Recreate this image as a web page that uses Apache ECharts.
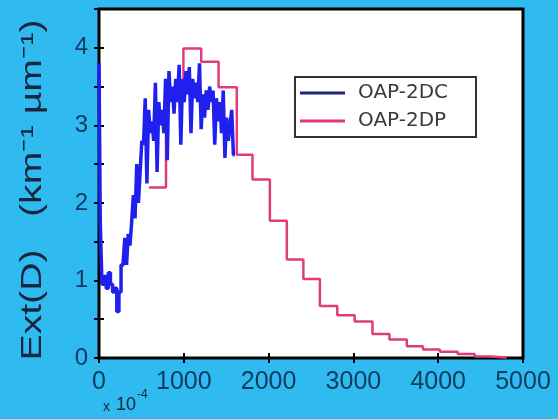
<!DOCTYPE html>
<html>
<head>
<meta charset="utf-8">
<script src="https://cdn.jsdelivr.net/npm/echarts@6/dist/echarts.min.js"></script>
<style>
  html, body { margin: 0; padding: 0; background: #2fbaf0; }
  #chart { width: 558px; height: 419px; }
</style>
</head>
<body>
<div id="chart"></div>
<script>
// OAP-2DC: narrow bins, left edges (µm) and values
const dcEdges = [0, 15, 35, 60, 85, 110, 135, 160, 185, 210, 235, 260, 285, 305, 325, 345, 365, 385, 405, 425,
  445, 465, 485, 505, 525, 545, 565, 585, 605, 625, 645, 665, 685, 705, 725, 745, 765, 785, 805, 825,
  845, 865, 885, 905, 925, 945, 965, 985, 1005, 1025, 1045, 1065, 1085, 1105, 1125, 1145, 1165, 1185, 1205, 1225,
  1245, 1265, 1285, 1305, 1325, 1345, 1365, 1385, 1405, 1425, 1445, 1465, 1485, 1505, 1525, 1545, 1565, 1585, 1600];
const dcValues = [3.8, 1.75, 0.95, 1.05, 0.9, 1.1, 0.95, 0.85, 0.9, 0.6, 0.85, 1.2, 1.25, 1.55, 1.2, 1.6, 1.45, 1.75, 2.1, 1.8,
  2.5, 2.0, 2.4, 2.8, 2.75, 3.35, 2.25, 3.2, 2.9, 3.05, 2.8, 3.55, 2.4, 3.3, 3.0, 3.2, 2.9, 3.6, 2.55, 3.7,
  3.3, 3.5, 3.15, 3.6, 3.3, 3.78, 2.75, 3.6, 3.3, 3.7, 3.4, 3.75, 2.9, 3.6, 3.35, 3.55, 3.3, 3.8, 2.95, 3.4,
  3.1, 3.45, 3.2, 3.5, 3.3, 3.45, 2.75, 3.35, 3.05, 3.3, 2.9, 3.45, 2.58, 3.1, 2.8, 3.0, 3.2, 2.62, 2.62];

// OAP-2DP: wide bins
const dpEdges = [590, 790, 995, 1205, 1410, 1625, 1810, 2015, 2215, 2410, 2605, 2810, 3015, 3225, 3425, 3630,
  3820, 4020, 4230, 4430, 4615, 4810];
const dpValues = [2.2, 3.44, 3.99, 3.82, 3.49, 2.62, 2.3, 1.77, 1.27, 1.02, 0.67, 0.55, 0.47, 0.31, 0.24, 0.15,
  0.11, 0.08, 0.05, 0.02, 0.005, 0.005];

const xTicks = [0, 1000, 2000, 3000, 4000, 5000];
const yTicks = [0, 1, 2, 3, 4];

const toPairs = (xs, ys) => xs.map((x, i) => [x, ys[i]]);

const myChart = echarts.init(document.getElementById('chart'));
const tickCol = '#0f3c5e';
const tickStyle = { show: true, inside: true, length: 5, lineStyle: { color: '#000', width: 2 } };

const option = {
  backgroundColor: '#2fbaf0',
  animation: false,
  grid: {
    left: 99, right: 35, top: 9, bottom: 61,
    show: true,
    backgroundColor: '#ffffff',
    borderColor: '#000000',
    borderWidth: 3
  },
  legend: {
    orient: 'vertical',
    left: 295,
    top: 77,
    padding: [6, 28, 6, 5],
    itemGap: 8,
    itemWidth: 45,
    itemHeight: 3,
    icon: 'rect',
    backgroundColor: '#ffffff',
    borderColor: '#333333',
    borderWidth: 2,
    borderRadius: 0,
    textStyle: {
      fontFamily: 'DejaVu Sans',
      fontSize: 20,
      color: '#3a3a3a',
      padding: [0, 0, 0, 8]
    },
    data: [
      { name: 'OAP-2DC', itemStyle: { color: '#22237a' } },
      { name: 'OAP-2DP', itemStyle: { color: '#e8337f' } }
    ]
  },
  xAxis: [
    {
      type: 'value',
      min: xTicks[0],
      max: xTicks[xTicks.length - 1],
      interval: 1000,
      axisLine: { show: false },
      axisTick: tickStyle,
      splitLine: { show: false },
      axisLabel: {
        margin: 12,
        fontFamily: 'Liberation Sans',
        fontSize: 25,
        color: tickCol,
        formatter: v => String(v)
      }
    },
    {
      type: 'value',
      position: 'top',
      min: xTicks[0],
      max: xTicks[xTicks.length - 1],
      interval: 1000,
      axisLine: { show: false },
      axisTick: tickStyle,
      splitLine: { show: false },
      axisLabel: { show: false }
    }
  ],
  yAxis: [
    {
      type: 'value',
      min: 0,
      max: 4.5,
      interval: 0.5,
      axisLine: { show: false },
      axisTick: tickStyle,
      splitLine: { show: false },
      axisLabel: {
        margin: 11,
        fontFamily: 'Liberation Sans',
        fontSize: 24,
        color: tickCol,
        formatter: v => (yTicks.indexOf(v) >= 0 ? String(v) : '')
      }
    },
    {
      type: 'value',
      position: 'right',
      min: 0,
      max: 4.5,
      interval: 0.5,
      axisLine: { show: false },
      axisTick: tickStyle,
      splitLine: { show: false },
      axisLabel: { show: false }
    }
  ],
  graphic: [
    {
      type: 'text',
      x: 33, y: 190,
      rotation: Math.PI / 2,
      scaleX: 1.35,
      style: {
        text: 'Ext(D)   (km⁻¹ µm⁻¹)',
        fontFamily: 'Liberation Sans',
        fontSize: 29,
        fill: '#16263f',
        align: 'center',
        verticalAlign: 'middle'
      }
    },
    {
      type: 'text',
      x: 103, y: 400,
      style: { text: 'x', fontFamily: 'Liberation Sans', fontSize: 14, fill: '#16263f' }
    },
    {
      type: 'text',
      x: 116, y: 396,
      style: { text: '10', fontFamily: 'Liberation Sans', fontSize: 18, fill: '#16263f' }
    },
    {
      type: 'text',
      x: 137, y: 389,
      style: { text: '-4', fontFamily: 'Liberation Sans', fontSize: 12, fill: '#16263f' }
    }
  ],
  series: [
    {
      name: 'OAP-2DC',
      type: 'line',
      step: 'end',
      symbol: 'none',
      z: 3,
      itemStyle: { color: '#2020ee' },
      lineStyle: { color: '#2020ee', width: 3.5 },
      data: toPairs(dcEdges, dcValues)
    },
    {
      name: 'OAP-2DP',
      type: 'line',
      step: 'end',
      symbol: 'none',
      z: 2,
      itemStyle: { color: '#e03c7c' },
      lineStyle: { color: '#e03c7c', width: 2.5 },
      data: toPairs(dpEdges, dpValues)
    }
  ]
};

option && myChart.setOption(option);
</script>
</body>
</html>
